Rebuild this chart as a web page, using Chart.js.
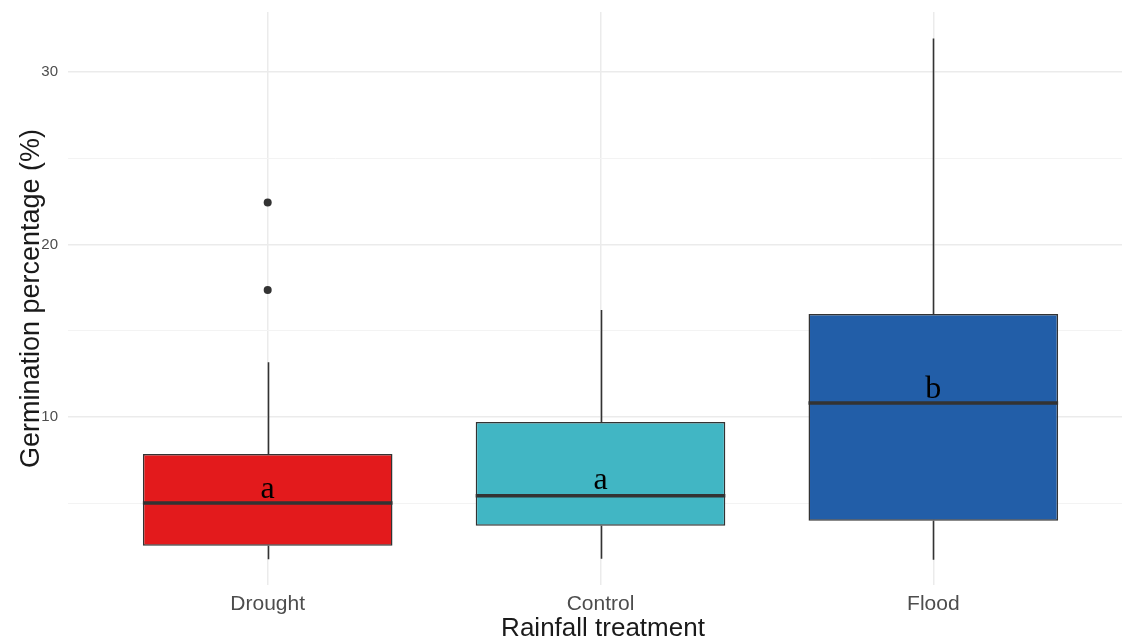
<!DOCTYPE html>
<html>
<head>
<meta charset="utf-8">
<script src="https://cdn.jsdelivr.net/npm/chart.js@4"></script>
<style>
  html, body { margin: 0; padding: 0; background: #ffffff; overflow: hidden; }
  #wrap { width: 1142px; height: 642px; position: relative; }
</style>
</head>
<body>
<div id="wrap"><canvas id="chart"></canvas></div>
<script>
// Germination percentage by rainfall treatment (box-and-whisker summary)
const categories = ['Drought', 'Control', 'Flood'];
const whiskerLow = [1.75, 1.78, 1.72];
const lowerQuartile = [2.53, 3.69, 3.98];
const medians = [5.02, 5.43, 10.81];
const upperQuartile = [7.86, 9.71, 15.97];
const whiskerHigh = [13.18, 16.2, 31.94];

// outlying observations: group index and value
const outlierGroup = [0, 0];
const outlierValues = [22.44, 17.36];

// significance letters and the height they sit at
const groupLetters = ['a', 'a', 'b'];
const letterHeights = [5.3, 5.83, 11.1];

const yGridValues = [5, 10, 15, 20, 25, 30];
const yTickLabels = [10, 20, 30];
const boxColors = ['#E31A1C', '#41B6C4', '#225EA8'];

const SANS = '"Liberation Sans", Arial, Helvetica, sans-serif';
const INK = '#333333';

// whiskers under the boxes, medians and letters on top
const boxParts = {
  id: 'boxParts',
  beforeDatasetsDraw(chart) {
    const { ctx, scales: { x, y } } = chart;
    ctx.save();
    ctx.strokeStyle = INK;
    ctx.lineWidth = 1.6;
    categories.forEach((_, i) => {
      const px = Math.round(x.getPixelForValue(i)) + 0.5;
      ctx.beginPath();
      ctx.moveTo(px, y.getPixelForValue(whiskerHigh[i]));
      ctx.lineTo(px, y.getPixelForValue(upperQuartile[i]));
      ctx.moveTo(px, y.getPixelForValue(lowerQuartile[i]));
      ctx.lineTo(px, y.getPixelForValue(whiskerLow[i]));
      ctx.stroke();
    });
    ctx.restore();
  },
  afterDatasetsDraw(chart) {
    const { ctx, scales: { x, y } } = chart;
    const meta = chart.getDatasetMeta(0);
    ctx.save();
    ctx.strokeStyle = INK;
    ctx.lineWidth = 3.5;
    meta.data.forEach((bar, i) => {
      const { x: cx, width } = bar.getProps(['x', 'width'], true);
      const py = y.getPixelForValue(medians[i]);
      ctx.beginPath();
      ctx.moveTo(cx - width / 2, py);
      ctx.lineTo(cx + width / 2, py);
      ctx.stroke();
    });
    ctx.fillStyle = '#000000';
    ctx.font = '32px "Liberation Serif", "Times New Roman", serif';
    ctx.textAlign = 'center';
    ctx.textBaseline = 'alphabetic';
    groupLetters.forEach((t, i) => {
      ctx.fillText(t, x.getPixelForValue(i), y.getPixelForValue(letterHeights[i]));
    });
    ctx.restore();
  }
};

new Chart(document.getElementById('chart'), {
  type: 'bar',
  data: {
    datasets: [
      {
        type: 'bar',
        data: categories.map((c, i) => ({ x: i, y: [lowerQuartile[i], upperQuartile[i]] })),
        backgroundColor: boxColors,
        borderColor: INK,
        borderWidth: 1.5,
        borderSkipped: false,
        barPercentage: 0.75,
        categoryPercentage: 1.0,
        order: 2
      },
      {
        type: 'scatter',
        data: outlierValues.map((v, i) => ({ x: outlierGroup[i], y: v })),
        pointRadius: 4,
        pointBackgroundColor: INK,
        pointBorderWidth: 0,
        order: 1
      }
    ]
  },
  options: {
    responsive: true,
    maintainAspectRatio: false,
    animation: false,
    layout: { padding: { top: 12, right: 0, bottom: 0, left: 0 } },
    plugins: { legend: { display: false }, tooltip: { enabled: false } },
    scales: {
      x: {
        type: 'linear',
        min: -0.6,
        max: 2.615,
        offset: false,
        afterBuildTicks(scale) { scale.ticks = categories.map((c, i) => ({ value: i })); },
        afterFit(scale) {
          scale.height = 57;
          scale.paddingLeft = 0;
          scale.paddingRight = 0;
        },
        ticks: {
          callback: (v) => categories[v],
          color: '#4d4d4d',
          font: { family: SANS, size: 21 },
          padding: 7,
          maxRotation: 0,
          autoSkip: false
        },
        grid: { color: '#ebebeb', lineWidth: 1.5, drawTicks: false, offset: false },
        border: { display: false },
        title: {
          display: true,
          text: 'Rainfall treatment',
          color: '#1a1a1a',
          font: { family: SANS, size: 26, lineHeight: 1.0 },
          padding: { top: 0, bottom: 0 }
        }
      },
      y: {
        type: 'linear',
        min: 0.26,
        max: 33.48,
        afterBuildTicks(scale) { scale.ticks = yGridValues.map(v => ({ value: v })); },
        afterFit(scale) {
          scale.width = 68;
          scale.paddingTop = 0;
          scale.paddingBottom = 0;
        },
        ticks: {
          callback: (v) => (yTickLabels.includes(v) ? String(v) : ''),
          color: '#4d4d4d',
          font: { family: SANS, size: 15 },
          padding: 10,
          autoSkip: false
        },
        grid: {
          color: (c) => (c.tick && c.tick.value % 10 === 0 ? '#ebebeb' : '#f3f3f3'),
          lineWidth: (c) => (c.tick && c.tick.value % 10 === 0 ? 1.5 : 1),
          drawTicks: false
        },
        border: { display: false },
        title: {
          display: true,
          text: 'Germination percentage (%)',
          color: '#1a1a1a',
          font: { family: SANS, size: 27 },
          padding: { top: 15, bottom: 0 }
        }
      }
    }
  },
  plugins: [boxParts]
});
</script>
</body>
</html>
